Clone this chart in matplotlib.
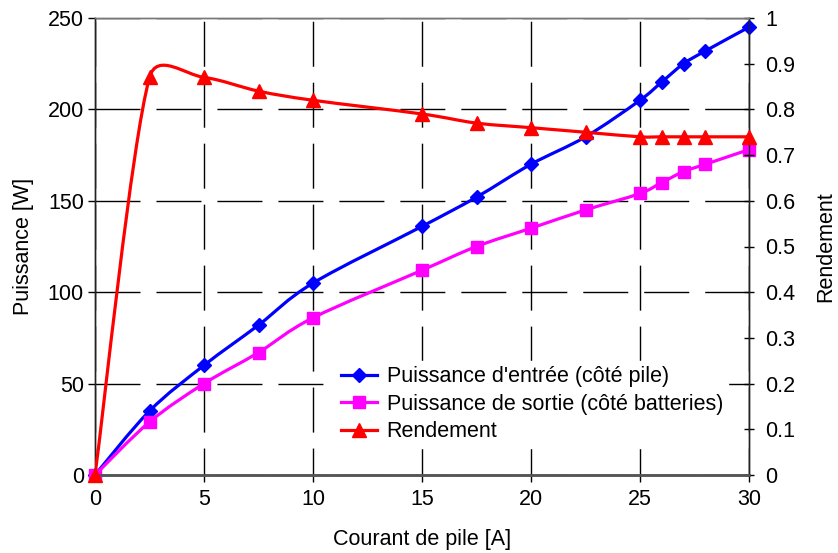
import numpy as np
import matplotlib
matplotlib.use("Agg")
import matplotlib.pyplot as plt
from matplotlib.path import Path
from matplotlib.patches import PathPatch
from matplotlib.lines import Line2D

plt.rcParams['font.family'] = ['Liberation Sans', 'DejaVu Sans']

# Data
courant = [0, 2.5, 5, 7.5, 10, 15, 17.5, 20, 22.5, 25, 26, 27, 28, 30]
p_entree = [0, 35, 60, 82, 105, 136, 152, 170, 185, 205, 215, 225, 232, 245]
p_sortie = [0, 29, 50, 67, 86, 112, 125, 135, 145, 154, 160, 166, 170, 178]
rendement = [0, 0.87, 0.87, 0.84, 0.82, 0.79, 0.77, 0.76, 0.75, 0.74, 0.74, 0.74, 0.74, 0.74]

labels = ["Puissance d'entrée (côté pile)",
          "Puissance de sortie (côté batteries)",
          "Rendement"]


def smooth_path(x, y, sx, sy, f=1 / 6, clamp=0.5):
    # Excel-like smoothed line: cubic Bezier segments, built in pixel-scaled space
    P = np.column_stack([np.asarray(x, float) * sx, np.asarray(y, float) * sy])
    n = len(P)
    verts = [P[0]]
    codes = [Path.MOVETO]
    for i in range(n - 1):
        p0 = P[i - 1] if i > 0 else P[i]
        p1, p2 = P[i], P[i + 1]
        p3 = P[i + 2] if i + 2 < n else P[i + 1]
        d12 = np.hypot(*(p2 - p1))
        a1 = f * (p2 - p0)
        a2 = f * (p3 - p1)
        for a in (a1, a2):
            la = np.hypot(*a)
            if la > clamp * d12:
                a *= clamp * d12 / la
        verts += [p1 + a1, p2 - a2, p2]
        codes += [Path.CURVE4] * 3
    V = np.array(verts)
    V[:, 0] /= sx
    V[:, 1] /= sy
    return Path(V, codes)


fig = plt.figure(figsize=(8.38, 5.53), dpi=100)
ax = fig.add_axes([95 / 838, 78 / 553, 654 / 838, 457 / 553])
ax2 = ax.twinx()

W, H = 654, 457
ax.set_xlim(0, 30)
ax.set_ylim(0, 250)
ax2.set_ylim(0, 1)

lw = 2.3
ax.add_patch(PathPatch(smooth_path(courant, p_entree, W / 30, H / 250),
                       fill=False, edgecolor='#0000ff', lw=lw, zorder=3))
ax.plot(courant, p_entree, ls='none', marker='D', ms=7.5, color='#0000ff', zorder=4, clip_on=False)
ax.add_patch(PathPatch(smooth_path(courant, p_sortie, W / 30, H / 250),
                       fill=False, edgecolor='#ff00ff', lw=lw, zorder=3))
ax.plot(courant, p_sortie, ls='none', marker='s', ms=9, color='#ff00ff', zorder=4, clip_on=False)
ax2.add_patch(PathPatch(smooth_path(courant, rendement, W / 30, H / 1),
                        fill=False, edgecolor='#ff0000', lw=lw, zorder=3))
ax2.plot(courant, rendement, ls='none', marker='^', ms=10, color='#ff0000', zorder=4, clip_on=False)

ax.set_xticks(np.arange(0, 31, 5))
ax.set_yticks(np.arange(0, 251, 50))
ax2.set_yticks(np.arange(0, 1.01, 0.1))
ax2.set_yticklabels(['0', '0.1', '0.2', '0.3', '0.4', '0.5', '0.6', '0.7', '0.8', '0.9', '1'])

ax.xaxis.grid(True, color='black', lw=1.0, ls=(13, (32.4, 11.5)))
ax.yaxis.grid(True, color='black', lw=1.0, ls=(0, (32.4, 11.5)))
ax.set_axisbelow(True)

fs = 15.5
ax.tick_params(axis='both', labelsize=fs, direction='out', length=5, width=1, pad=3)
ax.tick_params(axis='x', pad=5)
ax2.tick_params(axis='y', labelsize=fs, direction='inout', length=7.5, width=1, pad=8)

for a in (ax, ax2):
    for s in a.spines.values():
        s.set_color('#222222')
        s.set_linewidth(1.0)
    a.spines['bottom'].set_color('#555555')
    a.spines['bottom'].set_linewidth(1.8)
    a.spines['top'].set_color('#777777')

ax.set_xlabel('Courant de pile [A]', fontsize=fs, labelpad=14)
ax.set_ylabel('Puissance [W]', fontsize=fs, labelpad=10)
ax2.set_ylabel('Rendement', fontsize=fs, labelpad=14)

handles = [
    Line2D([], [], color='#0000ff', lw=lw, marker='D', ms=7.5),
    Line2D([], [], color='#ff00ff', lw=lw, marker='s', ms=9),
    Line2D([], [], color='#ff0000', lw=lw, marker='^', ms=10),
]
leg = ax2.legend(handles, labels, loc='upper left',
                 bbox_to_anchor=(336 / 838, (553 - 361) / 553),
                 bbox_transform=fig.transFigure,
                 fontsize=fs, frameon=True, framealpha=1, edgecolor='white',
                 fancybox=False, handlelength=1.65, handletextpad=0.45,
                 labelspacing=0.3, borderpad=0.25, borderaxespad=0)

fig.savefig('out.png', dpi=100)
